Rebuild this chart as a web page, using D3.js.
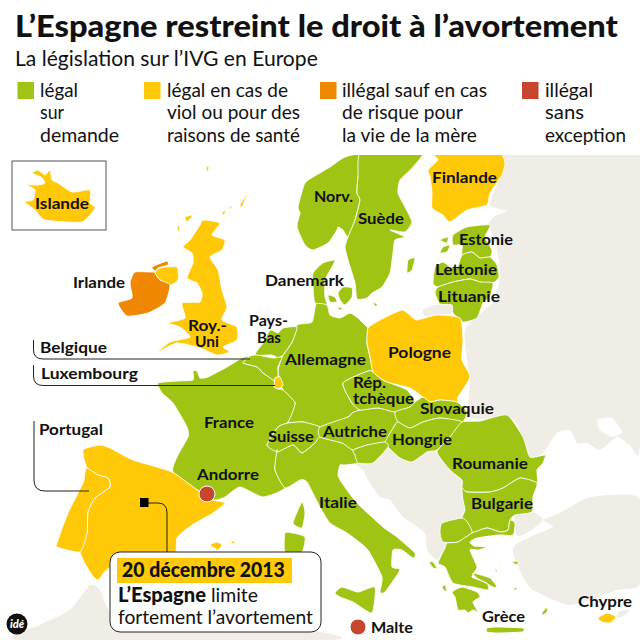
<!DOCTYPE html>
<html>
<head>
<meta charset="utf-8">
<script src="https://cdn.jsdelivr.net/npm/d3@7"></script>
<style>
  body { margin: 0; background: #fff; }
  text { font-family: Lato, "Open Sans", sans-serif; fill: #111; }
</style>
</head>
<body>
<div id="chart"></div>
<script>
// Legend classes and which country falls in which one
var categories = ["demande", "sante", "mere", "interdit"];
var categoryColors = ["#9fc414", "#ffc907", "#f08700", "#c8452d"];
var legendLines = [
  ["légal", "sur", "demande"],
  ["légal en cas de", "viol ou pour des", "raisons de santé"],
  ["illégal sauf en cas", "de risque pour", "la vie de la mère"],
  ["illégal", "sans", "exception"]
];
var legalDemande = ["Norvege", "Suede", "Danemark", "Estonie", "Lettonie", "Lituanie", "PaysBas", "Belgique",
  "Allemagne", "France", "Suisse", "Italie", "Autriche", "Tchequie", "Slovaquie", "Hongrie", "Slovenie",
  "Roumanie", "Bulgarie", "Macedoine", "Grece"];
var legalSante = ["Islande", "Finlande", "RoyaumeUni", "Pologne", "Luxembourg", "Espagne", "Portugal", "Chypre"];
var illegalMere = ["Irlande"];

// Outlines, in picture units
var landOutlines = [
  [[497,155],[640,155],[640,443],[630,445],[617,437],[600,450],[587,443],[577,443],[570,430],[557,433],[543,453],[530,457],[520,430],[510,418],[470,418],[470,380],[465,330],[495,300],[500,270],[495,240],[488,225],[495,216],[507,211],[490,205],[500,175]],
  [[640,500],[613,495],[587,498],[560,513],[543,520],[553,527],[530,537],[515,545],[513,553],[523,577],[533,590],[570,605],[617,590],[640,583]],
  [[515,515],[533,512],[543,520],[530,531],[517,536]],
  [[355,463],[363,470],[368,480],[380,497],[390,500],[403,517],[425,533],[427,550],[437,560],[445,548],[447,543],[443,542],[440,533],[442,523],[462,518],[465,510],[463,500],[462,488],[462,480],[450,470],[437,453],[427,452],[412,462],[400,458],[388,447],[373,455]],
  [[423,310],[435,305],[452,305],[453,313],[437,315],[425,316]],
  [[20,640],[40,625],[70,610],[90,585],[100,590],[115,615],[200,625],[320,632],[330,640]],
  [[616,617],[620,611],[630,610],[622,617]]
];
var azovOutline = [[597,420],[612,418],[622,432],[612,437],[600,430]];

var outlines = {
  Norvege: [[[362,155],[358,177],[357,193],[360,200],[355,220],[348,237],[343,230],[338,227],[337,230],[328,243],[313,250],[305,245],[297,227],[300,213],[298,207],[305,183],[320,173],[330,167],[343,158],[352,155]]],
  Suede: [[[362,150],[423,150],[413,167],[400,180],[398,193],[405,207],[412,222],[405,232],[390,230],[405,237],[395,240],[393,253],[390,273],[382,287],[372,293],[367,298],[357,299],[355,283],[348,260],[345,247],[348,237],[355,220],[360,200],[357,193],[358,177]],
    [[407,273],[408,260],[415,258],[412,270]]],
  Finlande: [[[435,152],[497,152],[505,162],[502,175],[490,193],[487,205],[467,210],[450,222],[443,215],[432,208],[432,193],[430,177],[428,170],[438,160]]],
  Estonie: [[[453,235],[467,227],[490,225],[485,237],[492,250],[490,257],[480,258],[472,252],[462,255],[462,245],[453,245]],
    [[440,240],[448,237],[447,243]],
    [[440,253],[443,247],[450,245],[447,252]]],
  Lettonie: [[[462,255],[472,252],[480,258],[490,257],[497,265],[499,277],[493,283],[480,282],[470,279],[453,282],[438,287],[433,283],[435,267],[443,262],[450,267],[457,268]]],
  Lituanie: [[[438,287],[453,282],[470,279],[480,282],[493,283],[490,297],[483,303],[477,318],[463,322],[453,313],[452,305],[440,304],[435,293]]],
  Danemark: [[[315,303],[313,287],[313,273],[323,263],[335,260],[332,267],[325,280],[325,297],[327,305]],
    [[328,295],[335,297],[337,302],[330,302]],
    [[338,293],[343,287],[352,288],[352,297],[345,305],[340,300]],
    [[337,307],[343,308],[340,310]],
    [[373,302],[378,305],[375,306]]],
  Allemagne: [[[316,304],[327,305],[330,315],[340,318],[350,313],[358,318],[367,327],[368,328],[367,343],[370,357],[373,372],[368,371],[343,383],[352,403],[360,410],[352,413],[348,417],[320,427],[303,422],[288,422],[295,403],[283,390],[278,372],[282,357],[292,342],[297,325],[312,322]]],
  PaysBas: [[[297,327],[292,342],[283,355],[278,358],[272,355],[255,355],[263,343],[270,330],[278,333],[283,328]]],
  Belgique: [[[250,356],[257,355],[273,358],[282,357],[278,367],[278,377],[275,378],[274,381],[263,373],[257,367],[243,363]]],
  Luxembourg: [[[275,378],[280,377],[283,385],[278,389],[274,387]]],
  France: [[[242,358],[250,356],[243,363],[257,367],[263,373],[274,381],[274,387],[278,389],[283,390],[295,403],[288,422],[278,427],[267,445],[277,450],[275,470],[285,488],[263,497],[240,487],[225,497],[215,500],[200,492],[173,472],[178,455],[188,437],[187,427],[173,403],[162,393],[158,383],[178,381],[193,380],[193,371],[197,371],[200,378],[208,377],[227,367]],
    [[293,523],[302,502],[305,513],[302,528]]],
  Suisse: [[[278,427],[288,423],[303,422],[320,427],[320,437],[315,443],[302,453],[293,445],[278,452],[267,445]]],
  Italie: [[[277,450],[278,452],[293,445],[302,453],[315,443],[320,437],[342,443],[353,450],[355,455],[358,463],[345,465],[340,465],[338,475],[342,483],[357,503],[383,527],[397,537],[415,553],[413,558],[402,550],[393,550],[392,567],[400,570],[385,592],[380,592],[382,577],[370,553],[363,545],[347,533],[330,523],[320,507],[307,482],[300,480],[285,488],[275,470]],
    [[335,593],[342,587],[358,592],[375,587],[372,613],[353,602],[340,597]],
    [[285,533],[293,533],[305,537],[302,552],[285,552]]],
  Autriche: [[[320,427],[348,417],[352,413],[360,410],[378,408],[395,412],[398,422],[395,425],[385,442],[367,445],[353,450],[342,443],[320,437]]],
  Tchequie: [[[368,371],[343,383],[352,403],[360,410],[378,408],[395,412],[410,407],[415,402],[407,390],[390,383],[383,380],[373,372]]],
  Pologne: [[[368,328],[380,320],[402,310],[412,317],[417,320],[437,315],[460,318],[463,340],[462,360],[470,377],[458,397],[457,402],[440,400],[430,402],[423,397],[410,388],[390,383],[383,380],[373,372],[370,357],[367,343]]],
  Slovaquie: [[[415,402],[423,397],[430,402],[440,400],[457,402],[467,412],[462,422],[440,418],[423,422],[410,428],[398,422],[395,412],[410,407]]],
  Hongrie: [[[395,425],[398,422],[410,428],[423,422],[440,418],[462,422],[450,437],[437,450],[427,452],[412,462],[400,458],[388,447],[385,442]]],
  Slovenie: [[[353,450],[367,445],[385,442],[388,447],[373,463],[358,463],[355,455]]],
  Roumanie: [[[437,452],[450,437],[462,422],[480,421],[507,415],[523,437],[530,457],[545,455],[543,463],[537,470],[537,483],[520,478],[503,488],[490,492],[467,492],[462,488],[462,480],[450,470]]],
  Bulgarie: [[[462,488],[467,492],[490,492],[503,488],[520,478],[537,483],[533,497],[532,512],[515,515],[510,520],[508,530],[500,532],[487,528],[472,533],[468,523],[462,518],[465,510],[463,500]]],
  Macedoine: [[[442,523],[462,518],[468,523],[472,533],[458,542],[443,542],[440,533]]],
  Grece: [[[447,543],[458,542],[472,533],[487,528],[500,532],[508,530],[510,520],[515,523],[513,535],[498,535],[477,538],[470,542],[474,546],[487,547],[478,550],[470,550],[477,567],[472,577],[487,583],[488,590],[473,587],[453,583],[445,567],[438,563],[445,548]],
    [[452,592],[462,587],[477,592],[480,597],[473,602],[478,612],[473,610],[468,613],[465,610],[458,610],[455,597]],
    [[487,628],[497,627],[523,628],[522,632],[497,633],[487,632]],
    [[473,573],[490,578],[497,587],[493,587],[477,578]],
    [[542,613],[547,607],[547,612],[543,615]],
    [[429,562],[433,562],[437,568],[433,568]],
    [[442,587],[445,585],[447,592],[444,590]],
    [[512,562],[518,561],[517,565]],
    [[495,569],[497,570],[496,573]],
    [[513,589],[517,587],[516,590]]],
  Chypre: [[[598,618],[607,613],[616,617],[610,623],[602,622]]],
  Espagne: [[[83,450],[100,445],[110,448],[133,460],[172,472],[200,492],[213,500],[225,503],[213,513],[192,525],[177,538],[175,560],[150,575],[110,568],[98,580],[90,572],[80,552],[87,533],[88,512],[95,498],[110,487],[108,478],[98,475],[87,468]],
    [[210,545],[217,542],[222,545],[218,550]],
    [[230,542],[235,541],[234,544]]],
  Portugal: [[[87,468],[98,475],[108,478],[110,487],[95,498],[88,512],[87,533],[80,552],[57,547],[58,540],[68,513],[83,483],[85,472]]],
  RoyaumeUni: [[[203,220],[220,223],[212,235],[225,240],[222,250],[210,257],[218,270],[222,290],[227,307],[222,320],[237,327],[237,340],[223,347],[230,352],[217,355],[200,348],[177,343],[158,352],[170,342],[190,337],[180,327],[168,323],[185,318],[182,303],[200,302],[202,293],[197,283],[187,278],[193,263],[192,253],[183,247],[190,240],[200,225]],
    [[155,273],[160,268],[177,267],[178,280],[170,285],[160,280]],
    [[185,217],[193,215],[187,222]],
    [[177,228],[180,225],[179,232]],
    [[240,205],[248,193],[243,205],[242,207]],
    [[222,213],[226,210],[224,215]],
    [[229,208],[232,205],[231,209]],
    [[206,168],[209,166],[208,172]]],
  Irlande: [[[135,272],[155,272],[152,267],[167,261],[168,265],[158,268],[155,273],[160,280],[170,285],[165,303],[148,313],[127,316],[118,303],[132,298],[130,283]]],
  Islande: [[[32,173],[38,170],[45,175],[50,170],[52,180],[58,183],[72,192],[90,190],[90,203],[95,208],[82,222],[45,220],[35,210],[25,202],[33,200],[35,190],[27,185],[38,185],[45,183],[41,177]]]
};

// Country labels: text, left edge, baseline, width
var countryLabels = [
  ["Islande",35,209,54],["Irlande",73,288,52],["Roy.-",188,331,39],["Uni",195,347,24],
  ["Pays-",249,326,39],["Bas",257,343,24],["Danemark",265,286,79],["Norv.",314,202,39],
  ["Suède",358,224,46],["Finlande",432,183,65],["Estonie",459,245,54],["Lettonie",435,275,62],
  ["Lituanie",438,302,62],["Allemagne",285,365,81],["Pologne",388,358,63],["Rép.",353,388,33],
  ["tchèque",353,404,61],["Slovaquie",420,414,74],["Suisse",268,442,46],["Autriche",323,437,64],
  ["Hongrie",392,445,60],["Roumanie",452,469,76],["Bulgarie",471,509,62],["Grèce",482,622,43],
  ["Chypre",578,607,54],["Malte",371,633,42],["Italie",319,508,38],["France",204,428,50],
  ["Andorre",197,480,62],["Portugal",39,435,64],["Belgique",40,353,67],["Luxembourg",41,379,97]
];

// Microstates shown as a dot
var dotCountries = ["Andorre", "Malte"];
var dotAnchors = [[207,494],[358,627]];

var svgWidth = 640;
var svgHeight = 640;

var svg = d3.select("#chart")
  .append("svg")
  .attr("width", svgWidth)
  .attr("height", svgHeight)
  .style("display", "block");

var color = d3.scaleOrdinal().domain(categories).range(categoryColors);

// Picture units map 1:1
var xScale = d3.scaleLinear().domain([0, 640]).range([0, svgWidth]);
var yScale = d3.scaleLinear().domain([0, 640]).range([0, svgHeight]);

var ringPath = d3.line()
  .x(d => xScale(d[0]))
  .y(d => yScale(d[1]))
  .curve(d3.curveCardinalClosed.tension(0.45));

function statusOf(name) {
  if (legalDemande.includes(name)) return "demande";
  if (legalSante.includes(name)) return "sante";
  if (illegalMere.includes(name)) return "mere";
  return "interdit";
}

// Squeeze a text horizontally to the width it has in the picture
function fitWidth(selection, x, y, width) {
  var natural = selection.node().getComputedTextLength();
  selection.attr("transform", `translate(${x}, ${y}) scale(${width / natural}, 1)`);
}

function fittedText(parent, label, x, y, width, size, weight) {
  var t = parent.append("text")
    .attr("font-size", size)
    .attr("font-weight", weight)
    .text(label);
  fitWidth(t, x, y, width);
  return t;
}

// Heading
fittedText(svg, "L’Espagne restreint le droit à l’avortement", 15, 37, 603, 31, 900);
fittedText(svg, "La législation sur l’IVG en Europe", 15, 66, 303, 21, 400);

// Legend
var legendX = [17.5, 144, 320, 522];
var legendTextX = [40, 167, 342, 545];
var legendWidths = [
  [38, 24, 79],
  [121, 133, 133],
  [145, 121, 135],
  [48, 39, 81]
];
var legendBaselines = [97, 119, 142];

categories.forEach(function (cat, i) {
  svg.append("rect")
    .attr("x", legendX[i])
    .attr("y", 82)
    .attr("width", 16.5)
    .attr("height", 17)
    .attr("fill", color(cat));
  legendLines[i].forEach(function (line, j) {
    fittedText(svg, line, legendTextX[i], legendBaselines[j], legendWidths[i][j], 19, 400);
  });
});

// Inset frame for Iceland
svg.append("rect")
  .attr("x", 12)
  .attr("y", 161)
  .attr("width", 94)
  .attr("height", 69)
  .attr("fill", "none")
  .attr("stroke", "#555")
  .attr("stroke-width", 1);

svg.append("clipPath")
  .attr("id", "mapClip")
  .append("rect")
  .attr("x", 0)
  .attr("y", 155)
  .attr("width", 640)
  .attr("height", 485);

var mapGroup = svg.append("g").attr("clip-path", "url(#mapClip)");

// Countries outside the data
mapGroup.append("g").selectAll("path")
  .data(landOutlines)
  .enter()
  .append("path")
  .attr("d", d => ringPath(d))
  .attr("fill", "#f0ede6");

mapGroup.append("path")
  .attr("d", ringPath(azovOutline))
  .attr("fill", "#fff");

// Countries
mapGroup.append("g").selectAll("path")
  .data(Object.keys(outlines))
  .enter()
  .append("path")
  .attr("d", d => outlines[d].map(ring => ringPath(ring)).join(""))
  .attr("fill", d => color(statusOf(d)))
  .attr("stroke", "#fff")
  .attr("stroke-width", 0.9)
  .attr("stroke-linejoin", "round");

// Dots for Andorra and Malta
svg.append("g").selectAll("circle")
  .data(dotCountries)
  .enter()
  .append("circle")
  .attr("cx", (d, i) => xScale(dotAnchors[i][0]))
  .attr("cy", (d, i) => yScale(dotAnchors[i][1]))
  .attr("r", 8)
  .attr("fill", d => color(statusOf(d)))
  .attr("stroke", "#fff")
  .attr("stroke-width", 1);

// Leader lines
var leaderLines = [
  "M33.5,340 V350 Q33.5,359 43,359 H250",
  "M33.5,365 V376 Q33.5,385.5 43,385.5 H275",
  "M34,421 V480 Q34,491 45,491 H89",
  "M148,503 H158 Q167,503 167,513 V552"
];
svg.append("g").selectAll("path")
  .data(leaderLines)
  .enter()
  .append("path")
  .attr("d", d => d)
  .attr("fill", "none")
  .attr("stroke", "#222")
  .attr("stroke-width", 1);

svg.append("rect")
  .attr("x", 140)
  .attr("y", 498)
  .attr("width", 8.5)
  .attr("height", 9)
  .attr("fill", "#000");

// Labels
svg.append("g").selectAll("text")
  .data(countryLabels)
  .enter()
  .append("text")
  .attr("font-size", 16)
  .attr("font-weight", 700)
  .text(d => d[0])
  .each(function (d) {
    fitWidth(d3.select(this), d[1], d[2], d[3]);
  });

// Callout
svg.append("rect")
  .attr("x", 110)
  .attr("y", 552)
  .attr("width", 211)
  .attr("height", 80)
  .attr("rx", 10)
  .attr("fill", "#fff")
  .attr("stroke", "#222")
  .attr("stroke-width", 1);

svg.append("rect")
  .attr("x", 117)
  .attr("y", 558)
  .attr("width", 175)
  .attr("height", 25)
  .attr("fill", "#ffc907");

fittedText(svg, "20 décembre 2013", 122, 577, 163, 20, 900);
fittedText(svg, "L’Espagne", 118, 602, 88, 20, 900);
fittedText(svg, "limite", 211, 602, 47, 20, 400);
fittedText(svg, "fortement l’avortement", 118, 624, 195, 20, 400);

// Publisher mark
svg.append("circle")
  .attr("cx", 17)
  .attr("cy", 624)
  .attr("r", 10.5)
  .attr("fill", "#111");

svg.append("text")
  .attr("x", 17)
  .attr("y", 628)
  .attr("text-anchor", "middle")
  .attr("font-size", 11)
  .attr("font-weight", 900)
  .attr("font-style", "italic")
  .style("fill", "#fff")
  .text("idé");
</script>
</body>
</html>
